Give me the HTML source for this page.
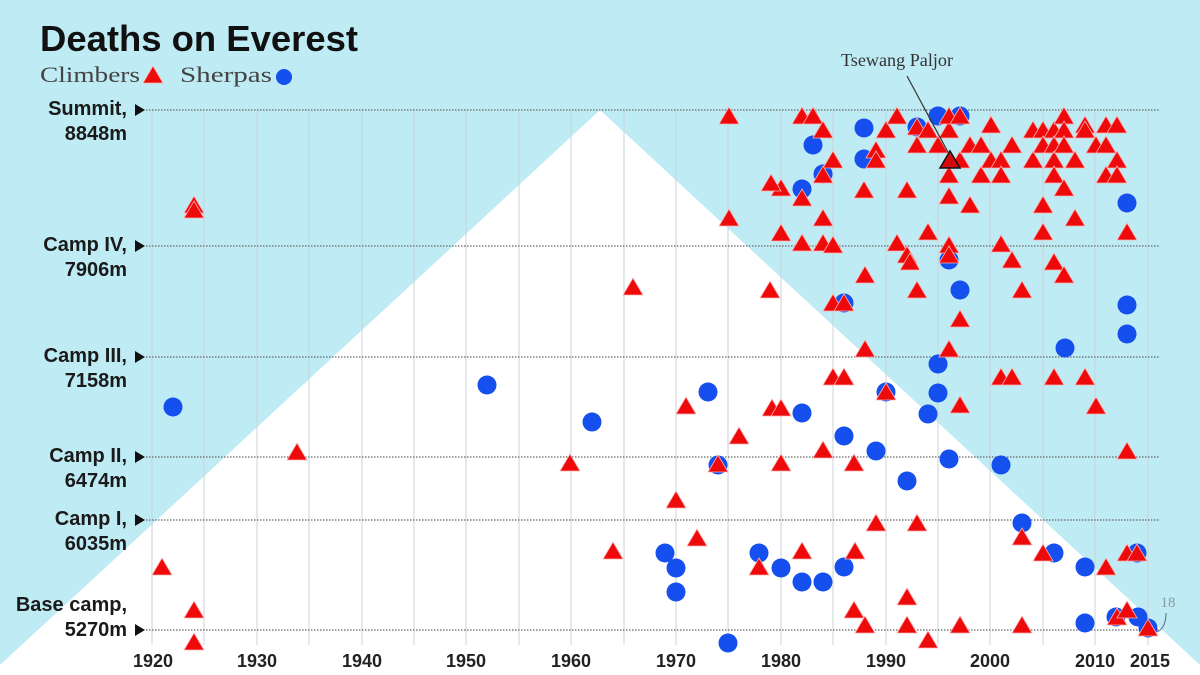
<!DOCTYPE html>
<html><head><meta charset="utf-8"><style>
html,body{margin:0;padding:0;background:#bfebf4;}
svg{display:block}
.yl{font-family:"Liberation Sans",sans-serif;font-weight:bold;font-size:20px;fill:#1a1a1a;text-anchor:end}
.xl{font-family:"Liberation Sans",sans-serif;font-weight:bold;font-size:18px;fill:#222;text-anchor:middle}
</style></head><body>
<svg width="1200" height="675" viewBox="0 0 1200 675" xmlns="http://www.w3.org/2000/svg">
<defs>
<polygon id="t" points="0,-9 10,8 -10,8" fill="#ee0a0a" stroke="#ffb0b0" stroke-width="0.8"/>
<circle id="c" r="9.5" fill="#1550ef"/>
</defs>
<rect width="1200" height="675" fill="#bfebf4"/>
<polygon points="0,665 600,110 1200,665 1200,675 0,675" fill="#ffffff"/>
<g stroke="#c9d3d8" stroke-width="1">
<line x1="152" y1="110" x2="152" y2="645"/><line x1="204" y1="110" x2="204" y2="645"/><line x1="257" y1="110" x2="257" y2="645"/><line x1="309" y1="110" x2="309" y2="645"/><line x1="362" y1="110" x2="362" y2="645"/><line x1="414" y1="110" x2="414" y2="645"/><line x1="466" y1="110" x2="466" y2="645"/><line x1="519" y1="110" x2="519" y2="645"/><line x1="571" y1="110" x2="571" y2="645"/><line x1="624" y1="110" x2="624" y2="645"/><line x1="676" y1="110" x2="676" y2="645"/><line x1="728" y1="110" x2="728" y2="645"/><line x1="781" y1="110" x2="781" y2="645"/><line x1="833" y1="110" x2="833" y2="645"/><line x1="886" y1="110" x2="886" y2="645"/><line x1="938" y1="110" x2="938" y2="645"/><line x1="990" y1="110" x2="990" y2="645"/><line x1="1043" y1="110" x2="1043" y2="645"/><line x1="1095" y1="110" x2="1095" y2="645"/><line x1="1148" y1="110" x2="1148" y2="645"/>
</g>
<g stroke="#666" stroke-width="1.2" stroke-dasharray="1.5,1.5">
<line x1="146" y1="110" x2="1160" y2="110"/><line x1="146" y1="246" x2="1160" y2="246"/><line x1="146" y1="357" x2="1160" y2="357"/><line x1="146" y1="457" x2="1160" y2="457"/><line x1="146" y1="520" x2="1160" y2="520"/><line x1="146" y1="630" x2="1160" y2="630"/>
</g>
<text x="40" y="51" font-family="Liberation Sans,sans-serif" font-weight="bold" font-size="36" fill="#111" textLength="318" lengthAdjust="spacingAndGlyphs">Deaths on Everest</text>
<text x="40" y="82" font-family="Liberation Serif,serif" font-size="22" fill="#444" textLength="100" lengthAdjust="spacingAndGlyphs">Climbers</text>
<use href="#t" x="153" y="75"/>
<text x="180" y="82" font-family="Liberation Serif,serif" font-size="22" fill="#444" textLength="92" lengthAdjust="spacingAndGlyphs">Sherpas</text>
<circle cx="284" cy="77" r="8" fill="#1550ef"/>
<g class="yl">
<text x="127" y="115">Summit,</text><text x="127" y="140">8848m</text>
<text x="127" y="251">Camp IV,</text><text x="127" y="276">7906m</text>
<text x="127" y="362">Camp III,</text><text x="127" y="387">7158m</text>
<text x="127" y="462">Camp II,</text><text x="127" y="487">6474m</text>
<text x="127" y="525">Camp I,</text><text x="127" y="550">6035m</text>
<text x="127" y="611">Base camp,</text><text x="127" y="636">5270m</text>
</g>
<g fill="#111">
<polygon points="135,104 145,110 135,116"/><polygon points="135,240 145,246 135,252"/><polygon points="135,351 145,357 135,363"/><polygon points="135,451 145,457 135,463"/><polygon points="135,514 145,520 135,526"/><polygon points="135,624 145,630 135,636"/>
</g>
<g class="xl">
<text x="153" y="667">1920</text><text x="257" y="667">1930</text><text x="362" y="667">1940</text><text x="466" y="667">1950</text><text x="571" y="667">1960</text><text x="676" y="667">1970</text><text x="781" y="667">1980</text><text x="886" y="667">1990</text><text x="990" y="667">2000</text><text x="1095" y="667">2010</text><text x="1150" y="667">2015</text>
</g>
<g>
<use href="#c" x="173" y="407"/><use href="#c" x="487" y="385"/><use href="#c" x="592" y="422"/><use href="#c" x="708" y="392"/><use href="#c" x="718" y="465"/><use href="#c" x="665" y="553"/><use href="#c" x="676" y="568"/><use href="#c" x="676" y="592"/><use href="#c" x="728" y="643"/><use href="#c" x="759" y="553"/><use href="#c" x="781" y="568"/><use href="#c" x="802" y="582"/><use href="#c" x="823" y="582"/><use href="#c" x="844" y="567"/><use href="#c" x="844" y="436"/><use href="#c" x="802" y="413"/><use href="#c" x="876" y="451"/><use href="#c" x="907" y="481"/><use href="#c" x="928" y="414"/><use href="#c" x="938" y="393"/><use href="#c" x="938" y="364"/><use href="#c" x="949" y="459"/><use href="#c" x="1001" y="465"/><use href="#c" x="1022" y="523"/><use href="#c" x="1054" y="553"/><use href="#c" x="1085" y="567"/><use href="#c" x="1085" y="623"/><use href="#c" x="1116" y="617"/><use href="#c" x="1138" y="617"/><use href="#c" x="1137" y="553"/><use href="#c" x="1065" y="348"/><use href="#c" x="1127" y="334"/><use href="#c" x="1127" y="305"/><use href="#c" x="1127" y="203"/><use href="#c" x="960" y="290"/><use href="#c" x="949" y="260"/><use href="#c" x="844" y="303"/><use href="#c" x="802" y="189"/><use href="#c" x="823" y="174"/><use href="#c" x="813" y="145"/><use href="#c" x="864" y="128"/><use href="#c" x="864" y="159"/><use href="#c" x="917" y="127"/><use href="#c" x="938" y="116"/><use href="#c" x="960" y="116"/><use href="#c" x="886" y="392"/><use href="#c" x="1148" y="628"/>
</g>
<g>
<use href="#t" x="194" y="205"/><use href="#t" x="194" y="210"/><use href="#t" x="162" y="567"/><use href="#t" x="194" y="610"/><use href="#t" x="194" y="642"/><use href="#t" x="297" y="452"/><use href="#t" x="570" y="463"/><use href="#t" x="613" y="551"/><use href="#t" x="633" y="287"/><use href="#t" x="676" y="500"/><use href="#t" x="686" y="406"/><use href="#t" x="697" y="538"/><use href="#t" x="718" y="464"/><use href="#t" x="739" y="436"/><use href="#t" x="729" y="218"/><use href="#t" x="729" y="116"/><use href="#t" x="759" y="567"/><use href="#t" x="770" y="290"/><use href="#t" x="772" y="408"/><use href="#t" x="781" y="408"/><use href="#t" x="781" y="463"/><use href="#t" x="802" y="551"/><use href="#t" x="823" y="450"/><use href="#t" x="833" y="377"/><use href="#t" x="844" y="377"/><use href="#t" x="854" y="463"/><use href="#t" x="854" y="610"/><use href="#t" x="865" y="625"/><use href="#t" x="876" y="523"/><use href="#t" x="855" y="551"/><use href="#t" x="833" y="303"/><use href="#t" x="844" y="303"/><use href="#t" x="865" y="349"/><use href="#t" x="865" y="275"/><use href="#t" x="781" y="233"/><use href="#t" x="802" y="243"/><use href="#t" x="823" y="243"/><use href="#t" x="833" y="245"/><use href="#t" x="823" y="218"/><use href="#t" x="802" y="198"/><use href="#t" x="781" y="188"/><use href="#t" x="771" y="183"/><use href="#t" x="802" y="116"/><use href="#t" x="813" y="116"/><use href="#t" x="823" y="130"/><use href="#t" x="833" y="160"/><use href="#t" x="823" y="175"/><use href="#t" x="864" y="190"/><use href="#t" x="876" y="150"/><use href="#t" x="876" y="160"/><use href="#t" x="886" y="130"/><use href="#t" x="897" y="116"/><use href="#t" x="907" y="190"/><use href="#t" x="897" y="243"/><use href="#t" x="907" y="255"/><use href="#t" x="910" y="262"/><use href="#t" x="917" y="290"/><use href="#t" x="928" y="232"/><use href="#t" x="917" y="127"/><use href="#t" x="917" y="145"/><use href="#t" x="928" y="130"/><use href="#t" x="938" y="145"/><use href="#t" x="949" y="130"/><use href="#t" x="949" y="116"/><use href="#t" x="960" y="116"/><use href="#t" x="949" y="175"/><use href="#t" x="949" y="196"/><use href="#t" x="949" y="245"/><use href="#t" x="949" y="255"/><use href="#t" x="949" y="349"/><use href="#t" x="960" y="319"/><use href="#t" x="970" y="205"/><use href="#t" x="960" y="405"/><use href="#t" x="960" y="160"/><use href="#t" x="970" y="145"/><use href="#t" x="981" y="145"/><use href="#t" x="981" y="175"/><use href="#t" x="991" y="125"/><use href="#t" x="991" y="160"/><use href="#t" x="1001" y="160"/><use href="#t" x="1001" y="175"/><use href="#t" x="1012" y="145"/><use href="#t" x="1001" y="244"/><use href="#t" x="1012" y="260"/><use href="#t" x="1022" y="290"/><use href="#t" x="1001" y="377"/><use href="#t" x="1012" y="377"/><use href="#t" x="1033" y="130"/><use href="#t" x="1033" y="160"/><use href="#t" x="1043" y="130"/><use href="#t" x="1043" y="145"/><use href="#t" x="1054" y="130"/><use href="#t" x="1054" y="145"/><use href="#t" x="1054" y="160"/><use href="#t" x="1054" y="175"/><use href="#t" x="1064" y="116"/><use href="#t" x="1064" y="130"/><use href="#t" x="1064" y="145"/><use href="#t" x="1075" y="160"/><use href="#t" x="1085" y="125"/><use href="#t" x="1085" y="130"/><use href="#t" x="1096" y="145"/><use href="#t" x="1106" y="125"/><use href="#t" x="1106" y="175"/><use href="#t" x="1117" y="125"/><use href="#t" x="1117" y="160"/><use href="#t" x="1117" y="175"/><use href="#t" x="1106" y="145"/><use href="#t" x="1043" y="205"/><use href="#t" x="1043" y="232"/><use href="#t" x="1054" y="262"/><use href="#t" x="1064" y="275"/><use href="#t" x="1075" y="218"/><use href="#t" x="1054" y="377"/><use href="#t" x="1085" y="377"/><use href="#t" x="1096" y="406"/><use href="#t" x="1064" y="188"/><use href="#t" x="1127" y="232"/><use href="#t" x="1127" y="451"/><use href="#t" x="1127" y="553"/><use href="#t" x="1137" y="553"/><use href="#t" x="1106" y="567"/><use href="#t" x="1117" y="617"/><use href="#t" x="1127" y="610"/><use href="#t" x="1148" y="628"/><use href="#t" x="1022" y="625"/><use href="#t" x="1022" y="537"/><use href="#t" x="1043" y="553"/><use href="#t" x="960" y="625"/><use href="#t" x="928" y="640"/><use href="#t" x="907" y="625"/><use href="#t" x="907" y="597"/><use href="#t" x="917" y="523"/><use href="#t" x="886" y="392"/>
</g>
<polygon points="950,151 960,168 940,168" fill="#d40a0a" stroke="#111" stroke-width="1.5"/>
<line x1="907" y1="76" x2="949" y2="154" stroke="#333" stroke-width="1.2"/>
<text x="897" y="66" font-family="Liberation Serif,serif" font-size="18" fill="#333" text-anchor="middle" textLength="112" lengthAdjust="spacingAndGlyphs">Tsewang Paljor</text>
<text x="1168" y="607" font-family="Liberation Serif,serif" font-size="15" fill="#8a9aa0" text-anchor="middle">18</text>
<path d="M1166,613 Q1166,628 1157,632" fill="none" stroke="#667" stroke-width="1"/>
</svg>
</body></html>
